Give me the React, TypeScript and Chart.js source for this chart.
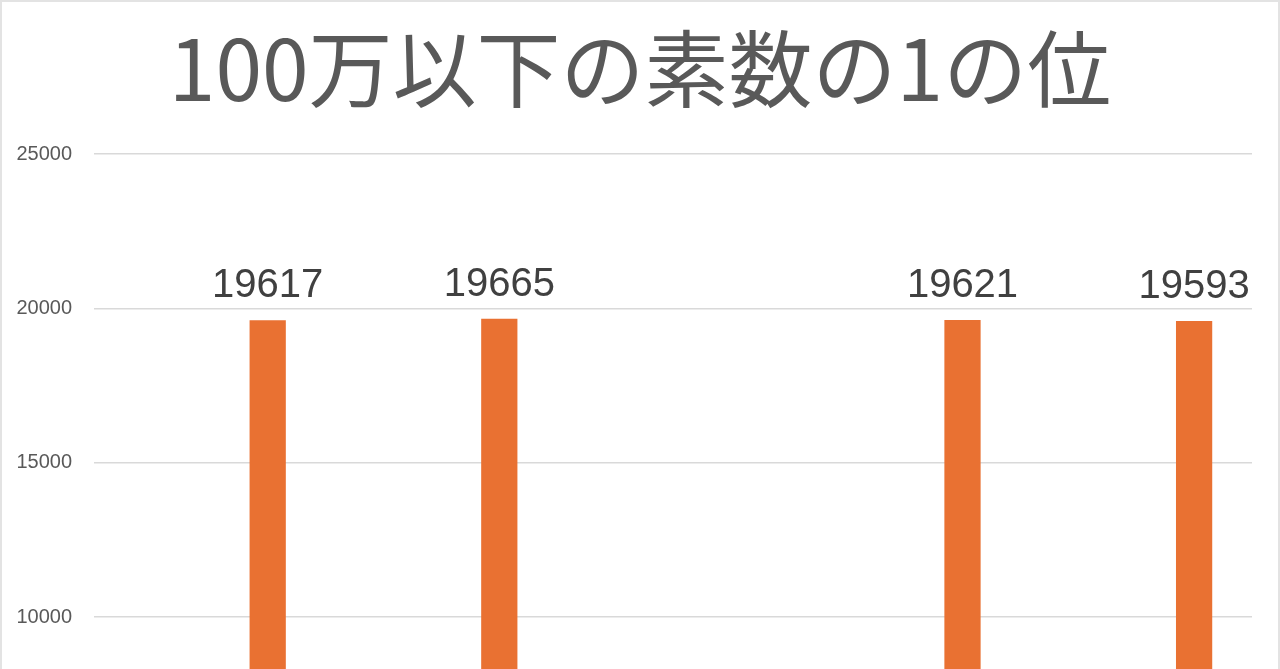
import { useEffect, useRef } from 'react';
import { Chart, registerables } from 'chart.js';

Chart.register(...registerables);

const titleText = '100万以下の素数の1の位';
const digits = ['0', '1', '2', '3', '4', '5', '6', '7', '8', '9'];
const primeCounts = [0, 19617, 1, 19665, 0, 1, 0, 19621, 0, 19593];
const yMin = 0;
const yMax = 25000;
const yStep = 5000;

// title centred on the whole canvas (the built-in one centres on the plot box)
const centredTitle = {
  id: 'centredTitle',
  afterDraw(chart: Chart) {
    const ctx = chart.ctx;
    ctx.save();
    ctx.font = '84px "Noto Sans CJK JP", sans-serif';
    ctx.fillStyle = '#595959';
    ctx.textAlign = 'center';
    ctx.textBaseline = 'middle';
    ctx.fillText(titleText, chart.width / 2, 69);
    ctx.restore();
  },
};

// draws the value above each bar, like Excel data labels
const barLabels = {
  id: 'barLabels',
  afterDatasetsDraw(chart: Chart) {
    const ctx = chart.ctx;
    const meta = chart.getDatasetMeta(0);
    ctx.save();
    ctx.font = '40px "Liberation Sans", Arial, sans-serif';
    ctx.fillStyle = '#404040';
    ctx.textAlign = 'center';
    ctx.textBaseline = 'alphabetic';
    meta.data.forEach((bar: any, i: number) => {
      ctx.fillText(String(primeCounts[i]), bar.x, bar.y - 23);
    });
    ctx.restore();
  },
};

export default function App() {
  const canvasRef = useRef<HTMLCanvasElement>(null);
  const chartRef = useRef<Chart | null>(null);

  useEffect(() => {
    if (!canvasRef.current) return;
    if (chartRef.current) chartRef.current.destroy();

    chartRef.current = new Chart(canvasRef.current, {
      type: 'bar',
      data: {
        labels: digits,
        datasets: [
          {
            data: primeCounts,
            backgroundColor: '#E97132',
            categoryPercentage: 1,
            barPercentage: 0.313,
          },
        ],
      },
      options: {
        animation: false,
        responsive: false,
        maintainAspectRatio: false,
        layout: { padding: { left: 0, right: 28, top: 154, bottom: 0 } },
        plugins: {
          legend: { display: false },
          tooltip: { enabled: false },
          title: { display: false },
        },
        scales: {
          x: {
            grid: { display: false },
            border: { display: false },
            ticks: { color: '#595959', font: { size: 20, family: '"Liberation Sans", Arial, sans-serif' } },
            afterFit: (scale: any) => {
              scale.height = 74;
            },
          },
          y: {
            min: yMin,
            max: yMax,
            border: { display: false },
            grid: { color: '#d9d9d9', lineWidth: 1.5, drawTicks: false },
            ticks: {
              stepSize: yStep,
              padding: 22,
              color: '#595959',
              font: { size: 20, family: '"Liberation Sans", Arial, sans-serif' },
              callback: (value: any) => String(value),
            },
            afterFit: (scale: any) => {
              scale.width = 94;
            },
          },
        },
      },
      plugins: [barLabels, centredTitle],
    });

    return () => {
      if (chartRef.current) {
        chartRef.current.destroy();
        chartRef.current = null;
      }
    };
  }, []);

  return (
    <div style={{ position: 'fixed', inset: 0, overflow: 'hidden', background: '#fff' }}>
      <canvas ref={canvasRef} width={1280} height={1000} style={{ position: 'absolute', left: 0, top: 0 }} />
      <div
        style={{
          position: 'absolute',
          left: 0,
          top: 0,
          width: 1280,
          height: 1000,
          boxSizing: 'border-box',
          borderLeft: '2px solid #e3e3e3',
          borderTop: '2px solid #e3e3e3',
          borderRight: '2px solid #e3e3e3',
          pointerEvents: 'none',
        }}
      />
    </div>
  );
}
